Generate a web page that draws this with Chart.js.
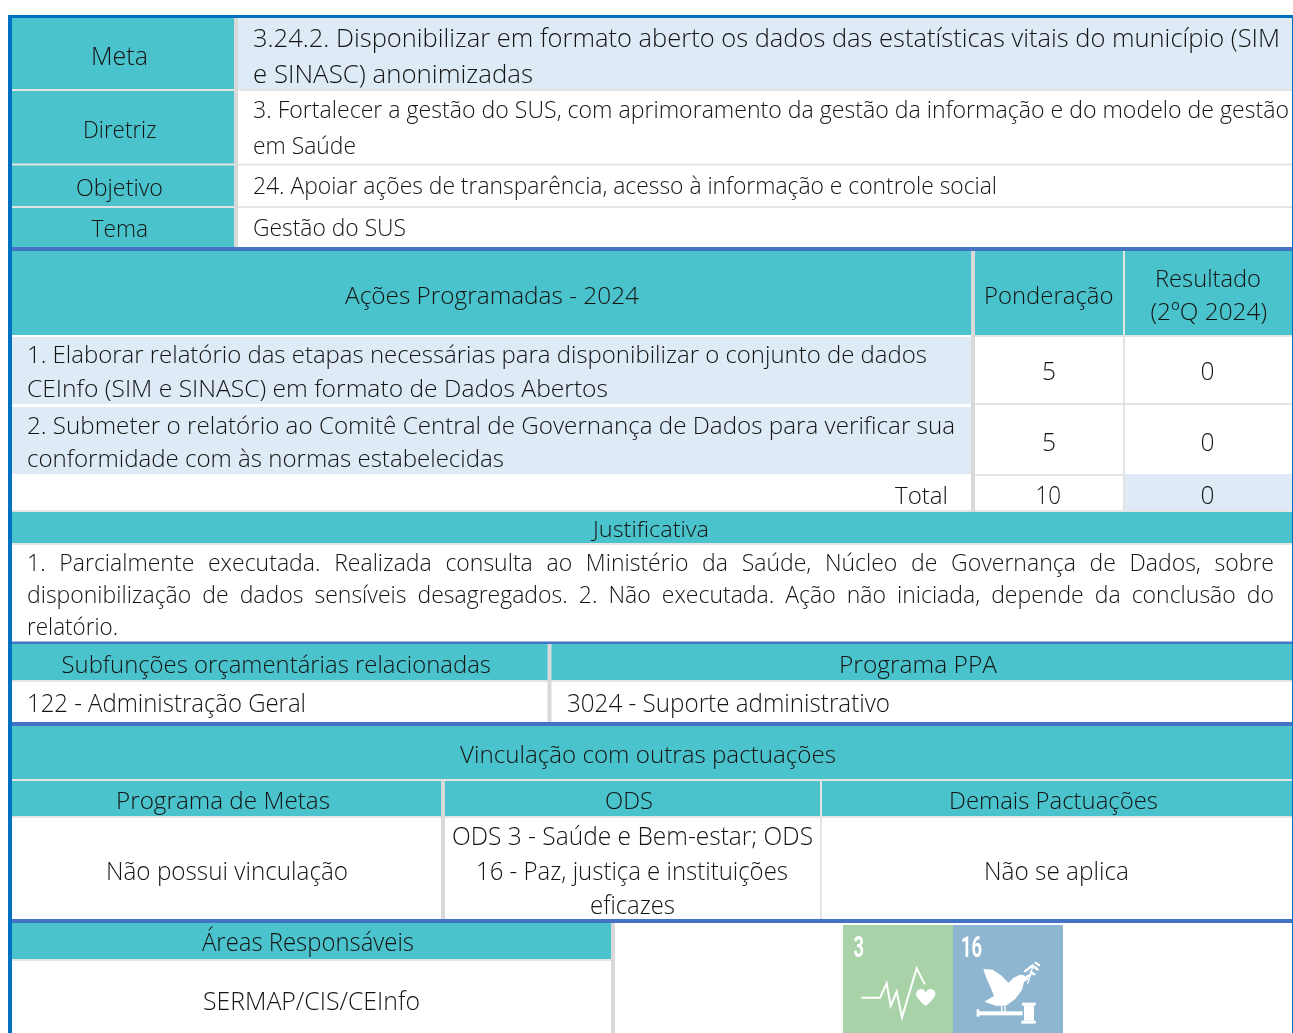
<!DOCTYPE html>
<html lang="pt-BR"><head><meta charset="utf-8"><title>Meta 3.24.2</title>
<style>html,body{margin:0;padding:0;background:#fff}canvas{display:block}</style>
<script src="https://cdn.jsdelivr.net/npm/chart.js@4"></script></head><body>
<canvas id="c" width="1293" height="1033" style="width:1293px;height:1033px"></canvas>
<script>
// ---------- content ----------
const rowLabels = ["Meta", "Diretriz", "Objetivo", "Tema"];
const metaLines = ["3.24.2. Disponibilizar em formato aberto os dados das estatísticas vitais do município (SIM", "e SINASC) anonimizadas"];
const diretrizLines = ["3. Fortalecer a gestão do SUS, com aprimoramento da gestão da informação e do modelo de gestão", "em Saúde"];
const objetivoText = "24. Apoiar ações de transparência, acesso à informação e controle social";
const temaText = "Gestão do SUS";
const actionHeaders = ["Ações Programadas - 2024", "Ponderação", "Resultado", "(2ºQ 2024)"];
const action1Lines = ["1. Elaborar relatório das etapas necessárias para disponibilizar o conjunto de dados", "CEInfo (SIM e SINASC) em formato de Dados Abertos"];
const action2Lines = ["2. Submeter o relatório ao Comitê Central de Governança de Dados para verificar sua", "conformidade com às normas estabelecidas"];
const ponderacao = [5, 5];
const resultado = [0, 0];
const totalLabel = "Total";
const totalPonderacao = 10;
const totalResultado = 0;
const justHeader = "Justificativa";
const justLines = ["1. Parcialmente executada. Realizada consulta ao Ministério da Saúde, Núcleo de Governança de Dados, sobre",
  "disponibilização de dados sensíveis desagregados. 2. Não executada. Ação não iniciada, depende da conclusão do", "relatório."];
const budgetHeaders = ["Subfunções orçamentárias relacionadas", "Programa PPA"];
const budgetValues = ["122 - Administração Geral", "3024 - Suporte administrativo"];
const linkHeader = "Vinculação com outras pactuações";
const linkColumns = ["Programa de Metas", "ODS", "Demais Pactuações"];
const linkMetas = "Não possui vinculação";
const linkOds = ["ODS 3 - Saúde e Bem-estar; ODS", "16 - Paz, justiça e instituições", "eficazes"];
const linkOther = "Não se aplica";
const areasHeader = "Áreas Responsáveis";
const areasValue = "SERMAP/CIS/CEInfo";
const odsNumbers = ["3", "16"];

// ---------- styles ----------
const TEAL = "#4bc3cc", SKY = "#deeaf6", SEP = "#e4e4e4", SEP2 = "#d9d9d9", BLUE = "#4472c4", EDGE = "#0070c0", INK = "#141414";
const FONT = '"Open Sans"';
const WEIGHT = 300;

const tablePlugin = {
  id: "tablePlugin",
  beforeDatasetsDraw(chart) {
    const { ctx, scales: { x: sx, y: sy } } = chart;
    const px = v => sx.getPixelForValue(v), py = v => sy.getPixelForValue(v);
    const R = (c, x0, y0, x1, y1) => { ctx.fillStyle = c; ctx.fillRect(px(x0), py(y0), px(x1) - px(x0), py(y1) - py(y0)); };
    const T = (s, x0, x1, base, size) => {
      ctx.save(); ctx.font = `${WEIGHT} ${size}px ${FONT}`; ctx.fillStyle = INK; ctx.textAlign = "left"; ctx.textBaseline = "alphabetic";
      const w = ctx.measureText(s).width;
      ctx.translate(px(x0), py(base)); ctx.scale((x1 - x0) / w, 1); ctx.fillText(s, 0, 0); ctx.restore();
    };
    const J = (s, x0, x1, base, size, k) => {
      ctx.save(); ctx.font = `${WEIGHT} ${size}px ${FONT}`; ctx.fillStyle = INK;
      const words = s.split(" "), ws = words.map(w => ctx.measureText(w).width * k);
      const gap = (x1 - x0 - ws.reduce((a, b) => a + b, 0)) / (words.length - 1);
      let cx = x0;
      words.forEach((w, i) => { ctx.save(); ctx.translate(px(cx), py(base)); ctx.scale(k, 1); ctx.fillText(w, 0, 0); ctx.restore(); cx += ws[i] + gap; });
      ctx.restore();
    };

    // fills
    R("#fff", 0, 0, 1293, 1033);
    R(TEAL, 12, 18, 234, 247);
    R(SKY, 238, 18, 1292, 89);
    R(TEAL, 12, 251, 1292, 335);
    R(SKY, 12, 337, 971, 404);
    R(SKY, 12, 407, 971, 474);
    R(SKY, 1125, 474, 1292, 510);
    R(TEAL, 12, 512, 1292, 543);
    R(TEAL, 12, 644, 1292, 680);
    R(TEAL, 12, 726, 1292, 779);
    R(TEAL, 12, 781, 1292, 816);
    R(TEAL, 12, 923, 611, 959);
    // row separators
    [[89, 91], [163.5, 165.5], [206, 208]].forEach(([a, b]) => { R(SEP, 12, a, 234, b); R(SEP, 238, a, 1292, b); });
    R(SEP, 975, 335, 1292, 337); R(SEP, 975, 403, 1292, 405); R(SEP, 975, 474, 1125, 476);
    R(SEP, 12, 510, 1292, 512); R(SEP, 12, 543, 1292, 545);
    R(SEP, 12, 680, 1292, 682); R(SEP, 12, 779, 1292, 781); R(SEP, 12, 816, 1292, 818);
    R(SEP, 12, 959, 611, 961);
    // vertical separators
    R(SEP2, 234, 18, 238, 247);
    R(SEP2, 971, 251, 975, 512);
    R(SEP, 1123, 251, 1125, 512);
    R(SEP2, 547.5, 644, 551.5, 722);
    R(SEP, 820, 781, 822, 919);
    R(SEP2, 441, 781, 445, 919);
    R(SEP2, 611, 923, 615, 1033);
    // blue rules
    R(EDGE, 8, 15, 1293, 18);
    R(EDGE, 8, 15, 12, 1033);
    R(EDGE, 1292, 15, 1293, 1033);
    [[247, 251], [641.5, 644], [722, 726], [919, 923]].forEach(([a, b]) => R(BLUE, 12, a, 1292, b));

    // text
    T(rowLabels[0], 91, 148, 65, 25);
    T(rowLabels[1], 83, 156.5, 138, 24);
    T(rowLabels[2], 76, 163, 196, 24);
    T(rowLabels[3], 91.5, 148, 237, 24);
    T(metaLines[0], 253, 1280, 47, 26);
    T(metaLines[1], 253, 533, 83, 26);
    T(diretrizLines[0], 253, 1289, 117.5, 24);
    T(diretrizLines[1], 253, 356, 154, 24);
    T(objetivoText, 253, 997, 193.5, 24);
    T(temaText, 253, 406, 235.5, 24);
    T(actionHeaders[0], 345, 639, 304, 24);
    T(actionHeaders[1], 984, 1113.5, 304, 24);
    T(actionHeaders[2], 1155, 1261, 287, 24);
    T(actionHeaders[3], 1150.5, 1267, 320, 24);
    T(action1Lines[0], 27, 927, 363, 24);
    T(action1Lines[1], 27, 608, 397, 24);
    T(action2Lines[0], 27, 955, 434, 24);
    T(action2Lines[1], 27, 504, 467, 24);
    T(String(ponderacao[0]), 1042, 1056, 380, 25);
    T(String(resultado[0]), 1200.5, 1214.5, 380, 25);
    T(String(ponderacao[1]), 1042, 1056, 451, 25);
    T(String(resultado[1]), 1200.5, 1214.5, 451, 25);
    T(totalLabel, 895, 948, 504, 24);
    T(String(totalPonderacao), 1035.5, 1061, 504, 25);
    T(String(totalResultado), 1200.5, 1214.5, 504, 25);
    T(justHeader, 593, 709, 537, 22);
    J(justLines[0], 27, 1274, 571, 23, 1.0);
    J(justLines[1], 27, 1274, 603, 23, 1.0);
    T(justLines[2], 27, 118, 635, 23);
    T(budgetHeaders[0], 61.5, 491, 673, 24);
    T(budgetHeaders[1], 839, 997, 673, 24);
    T(budgetValues[0], 27, 306, 712, 25);
    T(budgetValues[1], 567, 890, 712, 25);
    T(linkHeader, 460, 836, 763, 24);
    T(linkColumns[0], 116, 330, 809, 24);
    T(linkColumns[1], 605, 653, 808.5, 24);
    T(linkColumns[2], 949, 1158, 809, 24);
    T(linkMetas, 106, 348, 880, 25);
    T(linkOds[0], 452, 813, 845, 25);
    T(linkOds[1], 476, 788, 879.5, 25);
    T(linkOds[2], 590, 675, 913.5, 25);
    T(linkOther, 984, 1129, 880, 25);
    T(areasHeader, 202, 414, 951, 25);
    T(areasValue, 203, 420, 1010, 25);

    // ODS tiles
    R("#a9d2a9", 843, 925, 953, 1033);
    R("#8fb6d1", 953, 925, 1063, 1033);
    ctx.save();
    ctx.filter = "blur(0.5px)";
    ctx.fillStyle = "#fff"; ctx.strokeStyle = "#fff";
    [[odsNumbers[0], 853.5, 864], [odsNumbers[1], 961, 982]].forEach(([s, a, b]) => {
      ctx.save(); ctx.font = '700 30px "Roboto"';
      const w = ctx.measureText(s).width;
      ctx.translate(a, 957); ctx.scale((b - a) / w, 1); ctx.fillText(s, 0, 0); ctx.restore();
    });
    ctx.translate(800, 900); ctx.scale(1 / 3, 1 / 3);
    const poly = p => { ctx.beginPath(); p.forEach(([a, b], i) => i ? ctx.lineTo(a, b) : ctx.moveTo(a, b)); };
    ctx.lineWidth = 6; ctx.lineJoin = "miter"; ctx.lineCap = "round";
    poly([[187, 293], [240, 293], [260, 250], [272, 318], [290, 275], [306, 352], [350, 205], [373, 250]]); ctx.stroke();
    // heart
    ctx.beginPath(); ctx.moveTo(377, 318);
    ctx.bezierCurveTo(350, 295, 345, 285, 350, 275);
    ctx.bezierCurveTo(356, 263, 372, 265, 377, 277);
    ctx.bezierCurveTo(382, 265, 400, 263, 405, 275);
    ctx.bezierCurveTo(409, 285, 404, 295, 377, 318); ctx.fill();
    // dove
    poly([[550, 207], [578, 209], [603, 226], [625, 248], [640, 234], [660, 224], [672, 226], [686, 238], [672, 246], [666, 270], [645, 298], [620, 316], [590, 318], [553, 305], [582, 288], [570, 258], [558, 232]]); ctx.fill();
    ctx.lineWidth = 4;
    [[605, 312, 605, 336], [615, 312, 615, 336], [683, 250, 700, 195]].forEach(([a, b, c, d]) => { ctx.beginPath(); ctx.moveTo(a, b); ctx.lineTo(c, d); ctx.stroke(); });
    [[680, 210, -.6], [685, 228, -.4], [698, 220, .5], [708, 205, .7], [693, 200, -.6], [712, 192, .6]].forEach(([a, b, r]) => { ctx.beginPath(); ctx.ellipse(a, b, 10, 4, r, 0, 7); ctx.fill(); });
    // gavel
    ctx.fillRect(532, 334, 136, 12); ctx.fillRect(530, 328, 8, 22);
    ctx.fillRect(672, 316, 30, 46); ctx.fillRect(666, 308, 41, 9); ctx.fillRect(664, 362, 43, 9);
    ctx.restore();
  }
};

new Chart(document.getElementById("c"), {
  type: "scatter",
  data: { datasets: [{ label: "Ponderação", data: [] }] },
  options: {
    responsive: false, animation: false, devicePixelRatio: 1,
    layout: { padding: 0 },
    plugins: { legend: { display: false }, title: { display: false }, tooltip: { enabled: false } },
    scales: {
      x: { type: "linear", min: 0, max: 1293, display: false },
      y: { type: "linear", min: 0, max: 1033, reverse: true, display: false }
    }
  },
  plugins: [tablePlugin]
});
</script></body></html>
